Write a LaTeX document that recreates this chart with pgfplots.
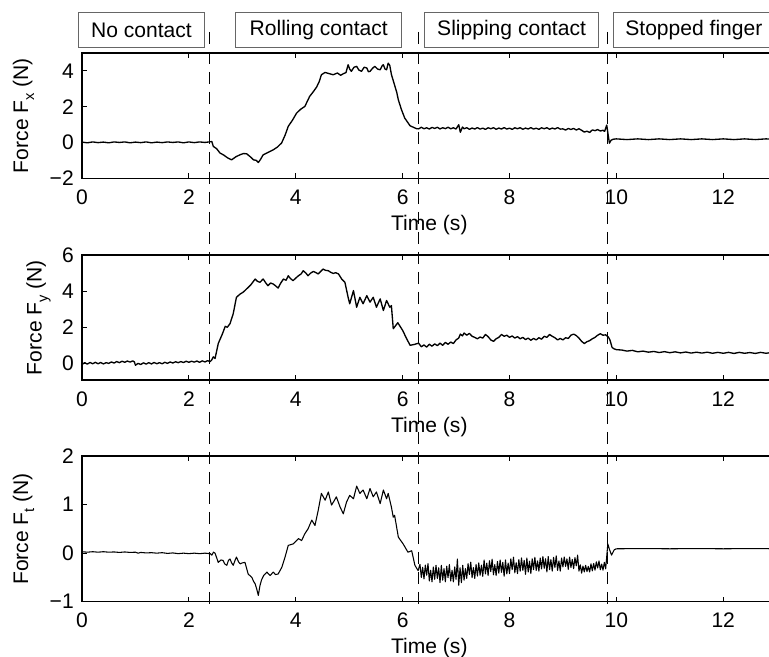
\documentclass[border=0pt]{standalone}
\usepackage{pgfplots}
\pgfplotsset{compat=1.18}
\usepackage{fontspec}
\setmainfont{Liberation Sans}
\newcommand{\sub}[1]{\raisebox{-0.28em}{\fontsize{11}{11}\selectfont #1}}
\pgfplotsset{
  myax/.style={
    scale only axis, width=521pt, xmin=0, xmax=13,
    axis line style={line width=0.9pt},
    tick style={line width=0.6pt, black},
    major tick length=3.75pt,
    tick align=inside, xtick pos=both, ytick pos=both,
    xtick={0,2,4,6,8,10,12}, xticklabels={0,2,4,6,8,10,12},
    xticklabel style={anchor=base, inner sep=0pt, yshift=-19.5pt},
    yticklabel style={anchor=east, inner sep=0pt, xshift=-6pt},
    xlabel={Time (s)},
    xlabel style={at={(axis description cs:0.5,0)}, anchor=base, inner sep=0pt, yshift=-39pt},
    anchor=south west, no markers,
  },
  sig/.style={black, mark=none, line width=1.0pt, line join=round},
}
\begin{document}
\fontsize{15.8}{19}\selectfont
\begin{tikzpicture}
\path[use as bounding box] (0pt,0pt) rectangle (576.75pt,-492.75pt);
% ---------- Fx ----------
\begin{axis}[myax, at={(61.5pt,-133.7pt)}, height=94pt, ymin=-2, ymax=5,
  ytick={-2,0,2,4}, yticklabels={−2,0,2,4},
  ylabel={Force F\sub{x} (N)},
  ylabel style={at={(axis description cs:-0.0774,0.5)}, anchor=base, inner sep=0pt}]
\addplot[sig] coordinates {
(0.0,0.02)(0.1,-0.02)(0.2,0.03)(0.3,-0.01)(0.4,0.02)(0.5,-0.02)(0.6,0.03)(0.7,0.0)(0.8,0.03)(0.9,-0.02)
(1.0,0.02)(1.1,-0.01)(1.2,0.03)(1.3,-0.02)(1.4,0.02)(1.5,-0.01)(1.6,0.03)(1.7,0.0)(1.8,0.03)(1.9,-0.02)
(2.0,0.03)(2.1,-0.01)(2.2,0.03)(2.3,0.0)(2.38,0.03)(2.43,0.05)(2.457,-0.22)(2.52,-0.35)(2.582,-0.59)
(2.65,-0.7)(2.72,-0.85)(2.80,-0.97)(2.88,-0.8)(2.955,-0.69)(3.02,-0.62)(3.08,-0.63)(3.15,-0.8)(3.21,-0.97)
(3.26,-1.0)(3.30,-1.12)(3.34,-0.95)(3.39,-0.69)(3.45,-0.6)(3.52,-0.5)(3.58,-0.41)(3.66,-0.25)(3.735,-0.03)
(3.80,0.4)(3.86,0.9)(3.94,1.25)(4.016,1.64)(4.09,1.85)(4.17,2.01)(4.26,2.57)(4.32,2.8)(4.39,3.09)(4.44,3.4)
(4.48,3.78)(4.547,3.91)(4.62,3.85)(4.70,3.78)(4.78,3.88)(4.84,3.75)(4.89,3.84)(4.94,3.9)(4.98,4.34)(5.01,4.1)
(5.04,3.97)(5.09,4.2)(5.14,4.25)(5.18,4.05)(5.23,3.97)(5.28,4.2)(5.33,4.16)(5.36,3.95)(5.39,3.97)(5.44,4.15)
(5.48,4.25)(5.53,4.1)(5.58,4.06)(5.62,4.3)(5.64,4.34)(5.67,4.1)(5.70,4.06)(5.73,4.43)(5.76,4.3)(5.79,3.8)
(5.82,3.5)(5.857,3.13)(5.89,2.8)(5.92,2.38)(5.95,2.1)(5.98,1.82)(6.04,1.36)(6.14,0.93)(6.26,0.77)(6.30,0.76)
(6.35,0.85)(6.40,0.765)(6.45,0.82)(6.50,0.75)(6.55,0.84)(6.60,0.785)(6.65,0.845)(6.70,0.755)(6.75,0.825)
(6.80,0.77)(6.85,0.85)(6.90,0.765)(6.95,0.82)(7.00,0.75)(7.05,0.99)(7.08,0.57)(7.12,0.86)(7.15,0.765)
(7.20,0.825)(7.25,0.735)(7.30,0.805)(7.35,0.75)(7.40,0.83)(7.45,0.745)(7.50,0.80)(7.55,0.73)(7.60,0.82)
(7.65,0.765)(7.70,0.825)(7.75,0.735)(7.80,0.805)(7.85,0.75)(7.90,0.83)(7.95,0.745)(8.00,0.80)(8.05,0.73)
(8.10,0.82)(8.15,0.765)(8.20,0.825)(8.25,0.735)(8.30,0.805)(8.35,0.75)(8.40,0.83)(8.45,0.745)(8.50,0.80)
(8.55,0.73)(8.60,0.82)(8.65,0.765)(8.70,0.825)(8.75,0.735)(8.80,0.805)(8.85,0.75)(8.90,0.83)(8.95,0.745)
(9.00,0.76)(9.05,0.69)(9.10,0.78)(9.15,0.725)(9.20,0.785)(9.25,0.695)(9.30,0.765)(9.35,0.68)(9.40,0.58)
(9.45,0.63)(9.50,0.56)(9.55,0.70)(9.60,0.66)(9.65,0.72)(9.70,0.64)(9.75,0.68)(9.78,0.62)(9.82,0.97)
(9.85,0.35)(9.87,-0.04)(9.90,0.12)(9.94,0.18)(10.0,0.2)(10.2,0.16)(10.4,0.2)(10.6,0.16)(10.8,0.2)(11.0,0.16)
(11.2,0.2)(11.4,0.16)(11.6,0.2)(11.8,0.16)(12.0,0.2)(12.2,0.16)(12.4,0.2)(12.6,0.16)(12.8,0.2)(13.0,0.17)
};
\coordinate (d1t) at (axis cs:2.383,6.17);
\coordinate (d2t) at (axis cs:6.294,6.17);
\coordinate (d3t) at (axis cs:9.837,6.17);
\end{axis}
% ---------- Fy ----------
\begin{axis}[myax, at={(61.5pt,-285pt)}, height=93.75pt, ymin=-0.92, ymax=6,
  ytick={0,2,4,6}, yticklabels={0,2,4,6},
  ylabel={Force F\sub{y} (N)},
  ylabel style={at={(axis description cs:-0.058,0.5)}, anchor=base, inner sep=0pt}]
\addplot[sig] coordinates {
(0.00,-0.06)(0.05,0.04)(0.10,-0.04)(0.15,0.05)(0.20,-0.02)(0.25,0.06)(0.30,-0.02)(0.35,0.05)(0.40,-0.03)
(0.45,0.04)(0.50,0.00)(0.55,0.08)(0.60,0.02)(0.65,0.10)(0.70,0.04)(0.75,0.12)(0.80,0.06)(0.85,0.13)
(0.90,0.07)(0.95,0.14)(0.98,0.08)(1.00,-0.10)(1.05,0.00)(1.10,-0.06)(1.15,0.03)(1.20,-0.04)(1.25,0.04)
(1.30,-0.03)(1.35,0.05)(1.40,-0.02)(1.45,0.04)(1.50,-0.02)(1.55,0.06)(1.60,0.00)(1.65,0.08)(1.70,0.02)
(1.75,0.09)(1.80,0.04)(1.85,0.10)(1.90,0.05)(1.95,0.12)(2.00,0.06)(2.05,0.12)(2.10,0.07)(2.15,0.13)
(2.20,0.06)(2.25,0.14)(2.30,0.08)(2.35,0.15)(2.40,0.10)(2.43,0.20)(2.457,0.36)(2.49,0.27)(2.55,1.1)
(2.63,1.65)(2.68,2.05)(2.72,2.0)(2.77,2.2)(2.83,2.75)(2.89,3.66)(2.96,3.84)(3.02,3.95)(3.08,4.12)
(3.16,4.35)(3.24,4.67)(3.28,4.55)(3.33,4.49)(3.39,4.67)(3.44,4.45)(3.48,4.3)(3.53,4.45)(3.58,4.39)
(3.62,4.3)(3.67,4.17)(3.72,4.45)(3.77,4.67)(3.82,4.6)(3.86,4.85)(3.90,4.7)(3.95,4.58)(4.0,4.72)(4.05,4.85)
(4.10,4.95)(4.14,5.13)(4.19,5.0)(4.23,4.85)(4.28,5.0)(4.33,5.09)(4.38,5.02)(4.42,4.95)(4.47,5.1)(4.51,5.22)
(4.56,5.15)(4.61,5.13)(4.65,5.05)(4.70,4.98)(4.75,5.02)(4.80,4.95)(4.86,4.67)(4.92,4.49)(4.98,3.66)
(5.01,3.3)(5.08,4.03)(5.14,3.11)(5.20,3.66)(5.26,3.3)(5.33,3.75)(5.39,3.39)(5.45,3.66)(5.51,3.11)(5.58,3.57)
(5.64,2.93)(5.70,3.48)(5.76,3.11)(5.79,3.2)(5.825,1.92)(5.91,2.25)(6.0,1.83)(6.07,1.4)(6.14,1.0)(6.22,1.05)
(6.30,1.12)(6.35,0.92)(6.40,1.02)(6.45,0.90)(6.50,1.06)(6.55,0.95)(6.60,1.08)(6.65,0.98)(6.70,1.12)
(6.75,1.00)(6.80,1.16)(6.85,1.06)(6.90,1.18)(6.95,1.10)(7.00,1.30)(7.05,1.40)(7.08,1.62)(7.12,1.52)
(7.15,1.68)(7.20,1.56)(7.25,1.66)(7.30,1.50)(7.35,1.44)(7.40,1.36)(7.45,1.46)(7.50,1.40)(7.55,1.60)
(7.60,1.48)(7.65,1.30)(7.70,1.22)(7.75,1.36)(7.80,1.44)(7.85,1.60)(7.90,1.50)(7.95,1.56)(8.00,1.44)
(8.05,1.52)(8.10,1.40)(8.15,1.48)(8.20,1.36)(8.25,1.44)(8.30,1.32)(8.35,1.40)(8.40,1.28)(8.45,1.38)
(8.50,1.30)(8.55,1.42)(8.60,1.34)(8.65,1.50)(8.70,1.44)(8.75,1.60)(8.80,1.50)(8.85,1.42)(8.90,1.30)
(8.95,1.38)(9.00,1.30)(9.05,1.42)(9.10,1.38)(9.15,1.56)(9.20,1.62)(9.25,1.54)(9.30,1.40)(9.35,1.22)
(9.40,1.10)(9.45,1.20)(9.50,1.26)(9.55,1.36)(9.60,1.44)(9.65,1.56)(9.70,1.64)(9.75,1.56)(9.80,1.58)
(9.85,1.46)(9.88,1.30)(9.92,0.88)(9.96,0.80)(10.0,0.76)(10.1,0.74)(10.2,0.68)(10.3,0.72)(10.4,0.64)
(10.5,0.68)(10.6,0.62)(10.7,0.66)(10.8,0.60)(10.9,0.65)(11.0,0.59)(11.1,0.64)(11.2,0.58)(11.3,0.63)
(11.4,0.57)(11.5,0.62)(11.6,0.57)(11.7,0.62)(11.8,0.56)(11.9,0.61)(12.0,0.56)(12.1,0.61)(12.2,0.55)
(12.3,0.61)(12.4,0.56)(12.5,0.60)(12.6,0.55)(12.7,0.61)(12.8,0.56)(12.9,0.60)(13.0,0.57)
};
\end{axis}
% ---------- Ft ----------
\begin{axis}[myax, at={(61.5pt,-451.3pt)}, height=109.3pt, ymin=-1, ymax=2,
  ytick={-1,0,1,2}, yticklabels={−1,0,1,2},
  ylabel={Force F\sub{t} (N)},
  ylabel style={at={(axis description cs:-0.0774,0.5)}, anchor=base, inner sep=0pt}]
\addplot[sig, line width=0.8pt] coordinates {
(0.0,0.03)(0.1,0.02)(0.2,0.03)(0.3,0.02)(0.4,0.03)(0.5,0.02)(0.6,0.025)(0.7,0.015)(0.8,0.025)(0.9,0.015)
(1.0,0.02)(1.05,0.0)(1.1,0.015)(1.2,0.005)(1.3,0.01)(1.4,0.0)(1.5,0.01)(1.6,-0.005)(1.7,0.005)(1.8,-0.01)
(1.9,0.0)(2.0,-0.01)(2.1,0.0)(2.2,-0.01)(2.3,0.0)(2.4,-0.01)(2.43,-0.04)(2.46,0.02)(2.49,0.0)(2.55,-0.19)
(2.60,-0.14)(2.64,-0.15)(2.67,-0.22)(2.71,-0.25)(2.74,-0.15)(2.77,-0.12)(2.80,-0.2)(2.83,-0.25)(2.86,-0.16)
(2.89,-0.08)(2.93,-0.18)(2.96,-0.22)(3.0,-0.2)(3.05,-0.19)(3.11,-0.43)(3.18,-0.5)(3.21,-0.58)(3.24,-0.63)
(3.27,-0.74)(3.30,-0.87)(3.33,-0.67)(3.36,-0.55)(3.40,-0.46)(3.46,-0.39)(3.52,-0.46)(3.58,-0.39)(3.62,-0.44)
(3.67,-0.43)(3.74,-0.29)(3.80,-0.08)(3.86,0.16)(3.95,0.19)(4.0,0.24)(4.05,0.3)(4.11,0.26)(4.17,0.4)
(4.23,0.5)(4.30,0.68)(4.36,0.57)(4.42,0.88)(4.48,1.23)(4.55,1.09)(4.61,1.26)(4.67,0.99)(4.72,1.08)
(4.76,1.16)(4.83,0.95)(4.89,0.81)(4.95,1.05)(5.01,1.19)(5.08,1.12)(5.14,1.38)(5.20,1.23)(5.26,1.3)
(5.33,1.12)(5.39,1.33)(5.45,1.16)(5.51,1.26)(5.58,1.02)(5.64,1.3)(5.70,1.12)(5.73,1.23)(5.79,0.95)
(5.825,0.74)(5.85,0.78)(5.92,0.33)(6.01,0.19)(6.10,0.02)(6.17,0.05)(6.23,-0.25)(6.29,-0.36)
(6.325,-0.23)(6.35,-0.50)(6.375,-0.29)(6.40,-0.53)(6.425,-0.245)(6.45,-0.455)(6.475,-0.215)(6.50,-0.573)
(6.525,-0.352)(6.55,-0.59)(6.575,-0.284)(6.60,-0.539)(6.625,-0.25)(6.65,-0.522)(6.675,-0.301)(6.70,-0.607)
(6.725,-0.25)(6.75,-0.556)(6.775,-0.318)(6.80,-0.59)(6.825,-0.267)(6.85,-0.505)(6.875,-0.233)(6.90,-0.573)
(6.925,-0.352)(6.95,-0.59)(6.975,-0.284)(7.00,-0.539)(7.025,-0.12)(7.05,-0.66)(7.075,-0.30)(7.10,-0.607)
(7.125,-0.25)(7.15,-0.556)(7.175,-0.318)(7.20,-0.52)(7.225,-0.216)(7.25,-0.44)(7.275,-0.184)(7.30,-0.504)
(7.325,-0.296)(7.35,-0.52)(7.375,-0.232)(7.40,-0.472)(7.425,-0.20)(7.45,-0.456)(7.475,-0.248)(7.50,-0.476)
(7.525,-0.14)(7.55,-0.428)(7.575,-0.204)(7.60,-0.46)(7.625,-0.156)(7.65,-0.38)(7.675,-0.124)(7.70,-0.444)
(7.725,-0.236)(7.75,-0.46)(7.775,-0.172)(7.80,-0.412)(7.825,-0.14)(7.85,-0.396)(7.875,-0.188)(7.90,-0.476)
(7.925,-0.14)(7.95,-0.428)(7.975,-0.204)(8.00,-0.42)(8.025,-0.116)(8.05,-0.34)(8.075,-0.084)(8.10,-0.404)
(8.125,-0.196)(8.15,-0.42)(8.175,-0.132)(8.20,-0.372)(8.225,-0.10)(8.25,-0.356)(8.275,-0.148)(8.30,-0.436)
(8.325,-0.10)(8.35,-0.388)(8.375,-0.164)(8.40,-0.42)(8.425,-0.116)(8.45,-0.34)(8.475,-0.084)(8.50,-0.355)
(8.525,-0.16)(8.55,-0.37)(8.575,-0.10)(8.60,-0.325)(8.625,-0.07)(8.65,-0.31)(8.675,-0.115)(8.70,-0.385)
(8.725,-0.07)(8.75,-0.34)(8.775,-0.13)(8.80,-0.37)(8.825,-0.085)(8.85,-0.295)(8.875,-0.055)(8.90,-0.355)
(8.925,-0.16)(8.95,-0.37)(8.975,-0.10)(9.00,-0.284)(9.025,-0.08)(9.05,-0.272)(9.075,-0.116)(9.10,-0.332)
(9.125,-0.08)(9.15,-0.296)(9.175,-0.128)(9.20,-0.32)(9.225,-0.092)(9.25,-0.26)(9.275,-0.04)(9.30,-0.37)
(9.325,-0.24)(9.35,-0.41)(9.375,-0.266)(9.40,-0.386)(9.425,-0.25)(9.45,-0.378)(9.475,-0.274)(9.50,-0.388)
(9.525,-0.22)(9.55,-0.364)(9.575,-0.212)(9.60,-0.35)(9.625,-0.179)(9.65,-0.305)(9.675,-0.161)(9.70,-0.341)
(9.725,-0.224)(9.75,-0.35)(9.775,-0.188)(9.80,-0.323)(9.84,0.19)(9.87,0.08)(9.91,-0.04)(9.96,0.07)
(10.0,0.09)(10.5,0.095)(11.0,0.09)(11.5,0.095)(12.0,0.09)(12.5,0.095)(13.0,0.09)
};
\coordinate (d1b) at (axis cs:2.383,-1.13);
\coordinate (d2b) at (axis cs:6.294,-1.13);
\coordinate (d3b) at (axis cs:9.837,-1.13);
\end{axis}
% dashed separators
\draw[line width=0.75pt, dash pattern=on 9pt off 6pt] (d1t) -- (d1b);
\draw[line width=0.75pt, dash pattern=on 9pt off 6pt] (d2t) -- (d2b);
\draw[line width=0.75pt, dash pattern=on 9pt off 6pt] (d3t) -- (d3b);
% phase boxes
\tikzset{phase/.style={draw=black!60, line width=0.75pt, fill=white, minimum height=26pt, inner sep=0pt}}
\node[phase, minimum width=94.2pt] at (106.1pt,-22.5pt) {No contact};
\node[phase, minimum width=124.3pt] at (239.1pt,-22.5pt) {Rolling contact};
\node[phase, minimum width=130pt] at (383.7pt,-22.5pt) {Slipping contact};
\node[phase, minimum width=120.75pt] at (520.4pt,-22.5pt) {Stopped finger};
\end{tikzpicture}
\end{document}
